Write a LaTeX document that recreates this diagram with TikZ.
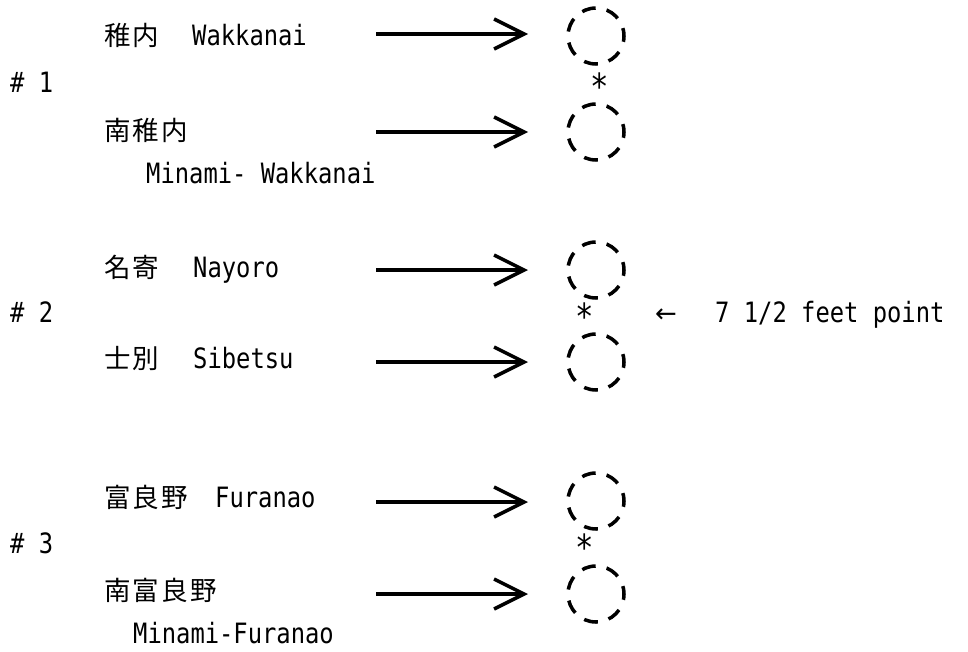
\documentclass[tikz,border=0pt]{standalone}
\usepackage{fontspec}
\usetikzlibrary{arrows.meta}
\newfontfamily\latf[FakeStretch=0.85]{DejaVu Sans Mono}
\newfontfamily\jpf{Noto Sans CJK JP}
\newfontfamily\symf{DejaVu Sans}
\newcommand\jc[1]{\makebox[28.6pt][c]{#1}}
\begin{document}
\begin{tikzpicture}[x=1pt,y=-1pt,
  lat/.style={inner sep=0pt, anchor=base west, font=\latf\fontsize{28}{28}\selectfont},
  jp/.style={inner sep=0pt, anchor=base west, font=\jpf\fontsize{26.5}{26.5}\selectfont},
  sym/.style={inner sep=0pt, anchor=base west, font=\symf\fontsize{26}{26}\selectfont},
  star/.style={inner sep=0pt, anchor=base, font=\latf\fontsize{36}{36}\selectfont},
  ring/.style={circle, draw, line width=3.5pt, minimum size=56pt, inner sep=0pt, outer sep=0pt,
    dash pattern=on 14pt off 11.13pt, dash phase=6pt},
  arr/.style={line width=3.5pt, shorten >=68pt, -{Straight Barb[length=30pt,width=30pt]}}]
\useasboundingbox (0,0) rectangle (968,651);

% group 1
\node[lat] (g1) at (10,92) {\# 1};
\node[jp] (w1j) at (103,45) {\jc{稚}\jc{内}};
\node[lat] (w1l) at (192,45) {Wakkanai};
\node[jp] (m1j) at (103,140) {\jc{南}\jc{稚}\jc{内}};
\node[lat] (m1l) at (146,183) {Minami- Wakkanai};
\node[ring] (c11) at (596,36) {};
\node[ring] (c12) at (596,132) {};
\node[star] (st1) at (600,99) {*};
\coordinate (a11) at (376,34);
\coordinate (a12) at (376,132);
\draw[arr] (a11) -- (a11 -| c11.center);
\draw[arr] (a12) -- (a12 -| c12.center);

% group 2
\node[lat] (g2) at (10,322) {\# 2};
\node[jp] (n2j) at (103,277) {\jc{名}\jc{寄}};
\node[lat] (n2l) at (193,277) {Nayoro};
\node[jp] (s2j) at (103,368) {\jc{士}\jc{別}};
\node[lat] (s2l) at (193,368) {Sibetsu};
\node[ring] (c21) at (596,270) {};
\node[ring] (c22) at (596,362) {};
\node[star] (st2) at (585,329) {*};
\node[sym] (la) at (655,322) {←};
\node[lat] (ft) at (715,322) {7 1/2 feet point};
\coordinate (a21) at (376,270);
\coordinate (a22) at (376,362);
\draw[arr] (a21) -- (a21 -| c21.center);
\draw[arr] (a22) -- (a22 -| c22.center);

% group 3
\node[lat] (g3) at (10,553) {\# 3};
\node[jp] (f3j) at (103,507) {\jc{富}\jc{良}\jc{野}};
\node[lat] (f3l) at (215,507) {Furanao};
\node[jp] (mf3j) at (103,600) {\jc{南}\jc{富}\jc{良}\jc{野}};
\node[lat] (mf3l) at (133,643) {Minami-Furanao};
\node[ring] (c31) at (596,501) {};
\node[ring] (c32) at (596,594) {};
\node[star] (st3) at (585,560) {*};
\coordinate (a31) at (376,502);
\coordinate (a32) at (376,594);
\draw[arr] (a31) -- (a31 -| c31.center);
\draw[arr] (a32) -- (a32 -| c32.center);
\end{tikzpicture}
\end{document}
